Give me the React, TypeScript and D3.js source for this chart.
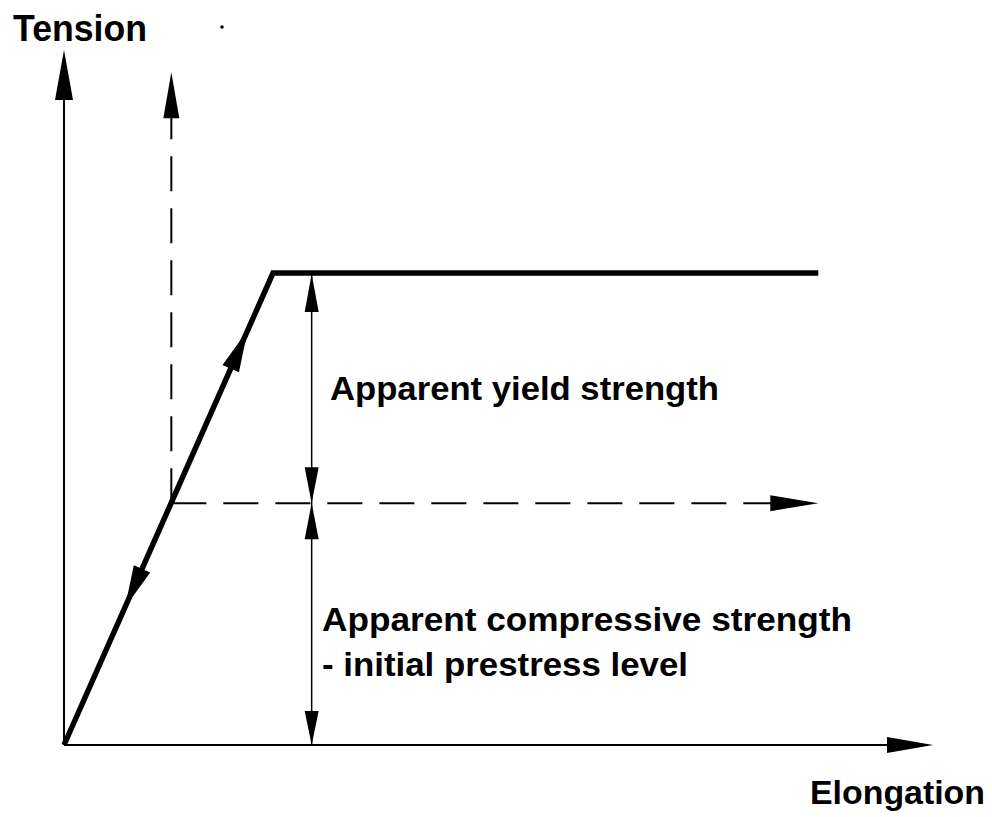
import React from "react";
import * as d3 from "d3";

// Data (in arbitrary elongation / tension units)
const yieldPoint = [24.05, 67.9]; // [elongation, tension] at apparent yield
const prestressPoint = [12.35, 34.8]; // initial prestress on the loading line
const plateauEnd = [86.8, 67.9];
const dashedTop = 96.8; // top of dashed vertical arrow
const dimensionX = 28.5; // elongation at which dimension arrows are drawn
const lineArrowFractions = [0.879, 0.292]; // positions of arrows along loading line
const axisLabels = ["Tension", "Elongation"];
const annotationLabels = [
  "Apparent yield strength",
  "Apparent compressive strength",
  "- initial prestress level",
];

const W = 992;
const H = 817;

const x = d3.scaleLinear().domain([0, 100]).range([64, 933]);
const y = d3.scaleLinear().domain([0, 100]).range([745, 50]);

function arrowHead(tip: [number, number], from: [number, number], len: number, hw: number) {
  const dx = tip[0] - from[0];
  const dy = tip[1] - from[1];
  const d = Math.hypot(dx, dy);
  const ux = dx / d;
  const uy = dy / d;
  const bx = tip[0] - ux * len;
  const by = tip[1] - uy * len;
  const px = -uy * hw;
  const py = ux * hw;
  return `M${tip[0]},${tip[1]}L${bx + px},${by + py}L${bx - px},${by - py}Z`;
}

export default function App() {
  const ox = x(0);
  const oy = y(0);
  const xEnd = x(100);
  const yEnd = y(100);
  const cx = x(yieldPoint[0]);
  const cy = y(yieldPoint[1]);
  const px = x(prestressPoint[0]);
  const py = y(prestressPoint[1]);
  const ex = x(plateauEnd[0]);
  const ey = y(plateauEnd[1]);
  const dtop = y(dashedTop);
  const dx = x(dimensionX);

  const line = d3.line();
  const loadPath = line([
    [ox, oy],
    [cx, cy],
    [ex, ey],
  ]) as string;

  const along = (t: number): [number, number] => [ox + (cx - ox) * t, oy + (cy - oy) * t];
  const upTip = along(lineArrowFractions[0]);
  const downTip = along(lineArrowFractions[1]);

  const font = "'Liberation Sans', Arial, sans-serif";

  return (
    <svg
      width={W}
      height={H}
      viewBox={`0 0 ${W} ${H}`}
      style={{ position: "absolute", left: 0, top: 0, background: "#fff" }}
    >
      <rect x={0} y={0} width={W} height={H} fill="#fff" />
      {/* axes */}
      <line x1={ox} y1={oy} x2={ox} y2={yEnd + 40} stroke="#000" strokeWidth={2} />
      <path d={arrowHead([ox, yEnd], [ox, oy], 50, 9)} fill="#000" />
      <line x1={ox} y1={oy} x2={xEnd - 40} y2={oy} stroke="#000" strokeWidth={2} />
      <path d={arrowHead([xEnd, oy], [ox, oy], 46, 8)} fill="#000" />

      {/* dashed lines */}
      <line
        x1={px}
        y1={py}
        x2={px}
        y2={dtop + 40}
        stroke="#000"
        strokeWidth={2}
        strokeDasharray="35,17"
      />
      <path d={arrowHead([px, dtop], [px, py], 46, 8)} fill="#000" />
      <line
        x1={px}
        y1={py}
        x2={ex - 40}
        y2={py}
        stroke="#000"
        strokeWidth={2}
        strokeDasharray="35,17"
      />
      <path d={arrowHead([ex, py], [px, py], 48, 8)} fill="#000" />

      {/* loading path */}
      <path d={loadPath} fill="none" stroke="#000" strokeWidth={5.5} strokeLinejoin="miter" />
      <path d={arrowHead(upTip, [ox, oy], 42, 9)} fill="#000" />
      <path d={arrowHead(downTip, [cx, cy], 42, 9)} fill="#000" />

      {/* dimension line */}
      <line x1={dx} y1={cy} x2={dx} y2={oy} stroke="#000" strokeWidth={1.5} />
      <path d={arrowHead([dx, cy + 1], [dx, py], 38, 7)} fill="#000" />
      <path d={arrowHead([dx, py], [dx, cy], 36, 7)} fill="#000" />
      <path d={arrowHead([dx, py], [dx, oy], 36, 7)} fill="#000" />
      <path d={arrowHead([dx, oy], [dx, py], 34, 7)} fill="#000" />

      {/* stray dot */}
      <circle cx={222} cy={27} r={1.8} fill="#000" />

      {/* texts */}
      <g fontFamily={font} fontWeight="bold" fill="#000">
        <text x={13} y={41} fontSize={36} textLength={134} lengthAdjust="spacingAndGlyphs">
          {axisLabels[0]}
        </text>
        <text x={810} y={804} fontSize={34} textLength={175} lengthAdjust="spacingAndGlyphs">
          {axisLabels[1]}
        </text>
        <text x={330} y={400} fontSize={34} textLength={389} lengthAdjust="spacingAndGlyphs">
          {annotationLabels[0]}
        </text>
        <text x={322} y={631} fontSize={34} textLength={530} lengthAdjust="spacingAndGlyphs">
          {annotationLabels[1]}
        </text>
        <text x={322} y={676} fontSize={34} textLength={366} lengthAdjust="spacingAndGlyphs">
          {annotationLabels[2]}
        </text>
      </g>
    </svg>
  );
}
